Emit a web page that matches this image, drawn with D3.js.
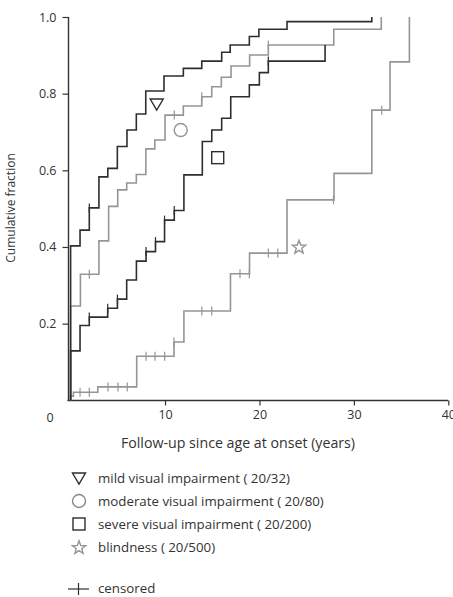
<!DOCTYPE html>
<html>
<head>
<meta charset="utf-8">
<script src="https://cdn.jsdelivr.net/npm/d3@7"></script>
<style>
  body { margin: 0; background: #fff; }
  text { font-family: "Open Sans", "Liberation Sans", sans-serif; fill: #333; }
</style>
</head>
<body>
<svg id="chart" width="453" height="597"></svg>
<script>
// Cumulative fraction reaching each visual impairment stage (step curves)

const mildTimes  = [0, 1.0, 1.98, 3.0, 3.94, 4.95, 5.97, 6.96, 7.96, 9.89, 11.94, 13.89, 16.0, 16.9, 18.93, 19.94, 22.92, 31.9];
const mildLevels = [0.403, 0.444, 0.502, 0.583, 0.605, 0.662, 0.705, 0.747, 0.807, 0.846, 0.866, 0.885, 0.908, 0.927, 0.949, 0.968, 0.988, 1.0];
const mildCensored = [1.98];

const moderateTimes  = [0, 1.04, 3.0, 4.03, 4.99, 5.94, 6.96, 7.97, 8.92, 10.0, 11.94, 13.89, 14.95, 15.96, 16.99, 18.96, 20.94, 27.87, 32.9];
const moderateLevels = [0.246, 0.329, 0.416, 0.506, 0.549, 0.567, 0.589, 0.656, 0.679, 0.744, 0.768, 0.792, 0.818, 0.843, 0.872, 0.901, 0.927, 0.968, 1.0];
const moderateCensored = [1.98, 10.98, 13.89, 20.94];

const severeTimes  = [0, 1.0, 1.98, 3.93, 4.96, 5.94, 6.97, 7.99, 8.99, 9.95, 10.98, 12.0, 13.95, 14.95, 16.0, 16.96, 18.93, 19.99, 20.94, 26.95];
const severeLevels = [0.129, 0.195, 0.217, 0.240, 0.264, 0.314, 0.363, 0.388, 0.414, 0.470, 0.495, 0.588, 0.675, 0.705, 0.736, 0.792, 0.823, 0.855, 0.885, 0.927];
const severeCensored = [1.98, 3.93, 4.96, 7.99, 8.99, 9.95, 10.98, 20.94];

const blindTimes  = [0, 0.3, 2.88, 7.0, 10.95, 12.0, 16.93, 18.95, 22.92, 27.9, 31.9, 33.83, 35.88];
const blindLevels = [0.011, 0.021, 0.035, 0.115, 0.152, 0.233, 0.330, 0.384, 0.523, 0.592, 0.757, 0.883, 1.0];
const blindCensored = [1.0, 1.98, 3.96, 5.02, 6.0, 7.99, 8.94, 9.96, 10.95, 13.9, 14.95, 17.94, 18.93, 20.94, 21.94, 27.84, 32.95];

const xTicks = [10, 20, 30, 40];
const yTicks = [0.2, 0.4, 0.6, 0.8, 1.0];

const legendLabels = [
    "mild visual impairment ( 20/32)",
    "moderate visual impairment ( 20/80)",
    "severe visual impairment ( 20/200)",
    "blindness ( 20/500)"
];
// marker anchor positions next to each curve (years, fraction)
const markerTimes = [9.12, 11.66, 15.58, 24.19];
const markerLevels = [0.773, 0.705, 0.633, 0.401];

const DARK = "#2e2e2e", GREY = "#959595";

const series = [
    { times: mildTimes, levels: mildLevels, censored: mildCensored, color: DARK, symbol: "triangle" },
    { times: moderateTimes, levels: moderateLevels, censored: moderateCensored, color: GREY, symbol: "circle" },
    { times: severeTimes, levels: severeLevels, censored: severeCensored, color: DARK, symbol: "square" },
    { times: blindTimes, levels: blindLevels, censored: blindCensored, color: GREY, symbol: "star" }
];

const svg = d3.select("#chart");
const x = d3.scaleLinear().domain([0, 40]).range([70.6, 448.3]);
const y = d3.scaleLinear().domain([0, 1]).range([400.3, 17]);

// axes
const yAxis = svg.append("g")
    .attr("transform", "translate(68.5,0)")
    .call(d3.axisLeft(y).tickValues(yTicks).tickFormat(d3.format(".1f")).tickSize(6).tickSizeOuter(0).tickPadding(6));
yAxis.select(".domain").remove();
yAxis.selectAll("line").attr("stroke", "#333").attr("stroke-width", 1.2);
yAxis.selectAll("text").style("font-size", "12.5px").attr("fill", "#333");
svg.append("line").attr("x1", 68.5).attr("x2", 68.5).attr("y1", y(1)).attr("y2", 400.8)
    .attr("stroke", "#333").attr("stroke-width", 1.4);

const xAxis = svg.append("g")
    .attr("transform", "translate(0,400.5)")
    .call(d3.axisBottom(x).tickValues(xTicks).tickSize(5).tickSizeOuter(0).tickPadding(5));
xAxis.select(".domain").remove();
xAxis.selectAll("line").attr("stroke", "#333").attr("stroke-width", 1.2);
xAxis.selectAll("text").style("font-size", "12.5px").attr("fill", "#333");
svg.append("line").attr("x1", 67.5).attr("x2", x(40)).attr("y1", 400.5).attr("y2", 400.5)
    .attr("stroke", "#333").attr("stroke-width", 1.4);

svg.append("text").attr("x", 50).attr("y", 422).attr("text-anchor", "middle")
    .style("font-size", "12.5px").text("0");

svg.append("text")
    .attr("transform", "translate(15,208) rotate(-90)")
    .attr("text-anchor", "middle")
    .style("font-size", "12px")
    .text("Cumulative fraction");

svg.append("text").attr("x", 238).attr("y", 448).attr("text-anchor", "middle")
    .style("font-size", "14.2px").text("Follow-up since age at onset (years)");

// curves
const line = d3.line().x(d => x(d[0])).y(d => y(d[1])).curve(d3.curveStepAfter);

function levelAt(s, t) {
    const i = d3.bisectRight(s.times, t) - 1;
    return i < 0 ? 0 : s.levels[i];
}

// draw grey curves first so the dark ones sit on top
[1, 3, 0, 2].forEach(k => {
    const s = series[k];
    const pts = [[0, 0]].concat(s.times.map((t, i) => [t, s.levels[i]]));
    svg.append("path").datum(pts)
        .attr("d", line)
        .attr("fill", "none")
        .attr("stroke", s.color)
        .attr("stroke-width", 1.6);
    svg.append("g").selectAll("line").data(s.censored).join("line")
        .attr("x1", d => x(d)).attr("x2", d => x(d))
        .attr("y1", d => y(levelAt(s, d)) - 4.5)
        .attr("y2", d => y(levelAt(s, d)) + 4.5)
        .attr("stroke", s.color).attr("stroke-width", 1.2);
});

function drawSymbol(g, type, color) {
    if (type === "triangle") {
        g.append("path").attr("d", "M-6.5,-5 L6.5,-5 L0,6 Z");
    } else if (type === "circle") {
        g.append("circle").attr("r", 6.5);
    } else if (type === "square") {
        g.append("rect").attr("x", -6).attr("y", -6).attr("width", 12).attr("height", 12);
    } else {
        const pts = d3.range(10).map(i => {
            const a = -Math.PI / 2 + i * Math.PI / 5, r = i % 2 ? 2.9 : 7;
            return [r * Math.cos(a), r * Math.sin(a) + 0.8];
        });
        g.append("path").attr("d", "M" + pts.join("L") + "Z");
    }
    g.selectAll("*").attr("fill", "none").attr("stroke", color).attr("stroke-width", 1.4);
}

series.forEach((s, i) => {
    const g = svg.append("g")
        .attr("transform", "translate(" + x(markerTimes[i]) + "," + y(markerLevels[i]) + ")");
    drawSymbol(g, s.symbol, s.color);
});

// legend
const legend = svg.append("g");
legendLabels.forEach((label, i) => {
    const yy = 478 + i * 23;
    const g = legend.append("g").attr("transform", "translate(79," + yy + ")");
    drawSymbol(g, series[i].symbol, i === 3 ? GREY : (i === 1 ? "#888" : DARK));
    legend.append("text").attr("x", 98).attr("y", yy + 4.5)
        .style("font-size", "13.3px").text(label);
});

legend.append("line").attr("x1", 68).attr("x2", 89).attr("y1", 589).attr("y2", 589)
    .attr("stroke", DARK).attr("stroke-width", 1.2);
legend.append("line").attr("x1", 78.5).attr("x2", 78.5).attr("y1", 583).attr("y2", 595)
    .attr("stroke", DARK).attr("stroke-width", 1.2);
legend.append("text").attr("x", 98).attr("y", 592.5).style("font-size", "13.3px").text("censored");
</script>
</body>
</html>
